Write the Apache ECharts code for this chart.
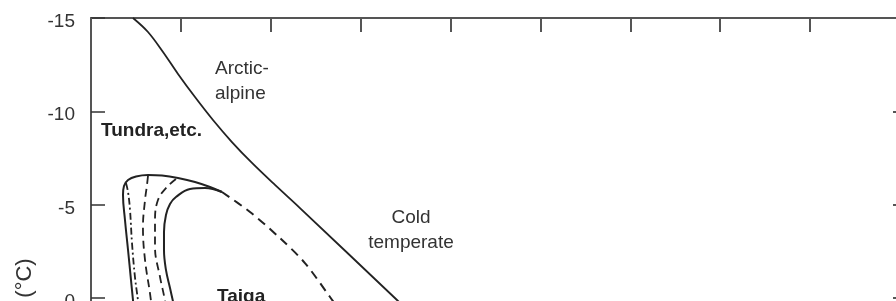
<!DOCTYPE html>
<html>
<head>
<meta charset="utf-8">
<script src="https://cdn.jsdelivr.net/npm/echarts@6/dist/echarts.min.js"></script>
<style>
html,body{margin:0;padding:0;background:#fff;}
#chart{width:896px;height:301px;}
</style>
</head>
<body>
<div id="chart"></div>
<script>
// Tick values (y: temperature in °C, inverted axis)
var yTicks = [-15, -10, -5, 0, 5];
var xTicks = [0, 1, 2, 3, 4, 5, 6, 7, 8, 9];

// Arctic-alpine / cold temperate boundary (solid)
var arcticBoundary = [
  [0.467, -15.00], [0.634, -14.25], [0.801, -13.18], [0.968, -12.00], [1.157, -10.76],
  [1.357, -9.53], [1.568, -8.35], [1.791, -7.23], [2.047, -6.05], [2.325, -4.81],
  [3.404, 0.12], [3.660, 1.30]
];
// Taiga outer envelope (solid)
var taigaOuter = [
  [0.478, 0.66], [0.445, -0.95], [0.412, -2.56], [0.378, -4.17], [0.356, -5.51],
  [0.367, -5.99], [0.412, -6.31], [0.501, -6.50], [0.634, -6.58], [0.790, -6.55],
  [0.968, -6.42], [1.157, -6.21], [1.324, -5.94], [1.457, -5.67]
];
// Taiga inner envelope (solid)
var taigaInner = [
  [1.457, -5.67], [1.268, -5.88], [1.101, -5.83], [0.945, -5.40], [0.879, -5.03],
  [0.834, -4.44], [0.812, -3.53], [0.812, -2.56], [0.834, -1.49], [0.879, -0.52],
  [0.934, 0.66]
];
// Continuation of the taiga limit (dashed)
var taigaLimit = [
  [1.457, -5.67], [1.769, -4.60], [2.102, -3.20], [2.380, -1.86], [2.659, -0.04], [2.825, 1.09]
];
// Inner isolines
var isoDashDot = [
  [0.389, -6.15], [0.412, -5.67], [0.434, -4.71], [0.456, -2.94], [0.489, -1.11], [0.523, 0.17], [0.534, 0.76]
];
var isoDashA = [
  [0.634, -6.53], [0.623, -6.05], [0.601, -5.24], [0.578, -3.79], [0.601, -2.02], [0.656, -0.25], [0.679, 0.66]
];
var isoDashB = [
  [0.945, -6.37], [0.834, -5.88], [0.745, -5.24], [0.712, -4.17], [0.712, -2.72], [0.768, -1.11], [0.823, 0.17], [0.834, 0.76]
];

var INK = '#222';
var FONT = 'Liberation Sans, Arial, sans-serif';
function line(name, data, type, width, smooth) {
  return {
    name: name, type: 'line', data: data, showSymbol: false, symbol: 'none',
    smooth: smooth, silent: true, animation: false,
    lineStyle: { color: INK, width: width, type: type }
  };
}

var chart = echarts.init(document.getElementById('chart'), null, { renderer: 'canvas' });
chart.setOption({
  backgroundColor: '#fff',
  animation: false,
  grid: { left: 91, top: 18, width: 809, height: 373, containLabel: false, outerBoundsMode: 'none' },
  xAxis: {
    type: 'value', position: 'top', min: xTicks[0], max: xTicks[xTicks.length - 1], interval: 1,
    axisLine: { show: true, onZero: false, lineStyle: { color: '#555', width: 2 } },
    axisTick: { show: true, inside: true, length: 14, lineStyle: { color: '#555', width: 2 } },
    axisLabel: { show: false },
    splitLine: { show: false }
  },
  yAxis: [{
    type: 'value', inverse: true, min: yTicks[0], max: yTicks[yTicks.length - 1], interval: 5,
    axisLine: { show: true, onZero: false, lineStyle: { color: '#555', width: 2 } },
    axisTick: { show: true, inside: true, length: 14, lineStyle: { color: '#333', width: 1.5 } },
    axisLabel: {
      show: true, margin: 16, formatter: '{a|{value}}',
      rich: { a: { color: '#333', fontSize: 19, fontFamily: FONT, lineHeight: 27, verticalAlign: 'bottom' } }
    },
    splitLine: { show: false }
  }, {
    type: 'value', inverse: true, position: 'right', min: yTicks[0], max: yTicks[yTicks.length - 1], interval: 5,
    axisLine: { show: true, onZero: false, lineStyle: { color: '#555', width: 2 } },
    axisTick: { show: true, inside: true, length: 7, lineStyle: { color: '#555', width: 2 } },
    axisLabel: { show: false },
    splitLine: { show: false }
  }],
  series: [
    line('Arctic boundary', arcticBoundary, 'solid', 1.8, 0.35),
    line('Taiga outer', taigaOuter, 'solid', 2, 0.4),
    line('Taiga inner', taigaInner, 'solid', 2, 0.4),
    line('Taiga limit', taigaLimit, [9, 6], 2, 0.3),
    line('Iso dash-dot', isoDashDot, [7, 3, 2, 3], 1.8, 0.4),
    line('Iso dash A', isoDashA, [8, 5], 1.8, 0.4),
    line('Iso dash B', isoDashB, [8, 5], 1.8, 0.4)
  ],
  graphic: [
    { type: 'text', left: 215, top: 56, style: { text: 'Arctic-\nalpine', fontSize: 19, lineHeight: 25, fill: '#333', fontFamily: FONT } },
    { type: 'text', left: 101, top: 121, style: { text: 'Tundra,etc.', fontSize: 19, fontWeight: 'bold', fill: '#222', fontFamily: FONT } },
    { type: 'text', x: 411, y: 205, style: { text: 'Cold\ntemperate', fontSize: 19, lineHeight: 25, align: 'center', verticalAlign: 'top', fill: '#333', fontFamily: FONT } },
    { type: 'text', left: 217, top: 287, style: { text: 'Taiga', fontSize: 19, fontWeight: 'bold', fill: '#222', fontFamily: FONT } },
    { type: 'text', x: 25, y: 278, rotation: Math.PI / 2, style: { text: '(°C)', fontSize: 22, align: 'center', verticalAlign: 'middle', fill: '#333', fontFamily: FONT } }
  ]
});
</script>
</body>
</html>
